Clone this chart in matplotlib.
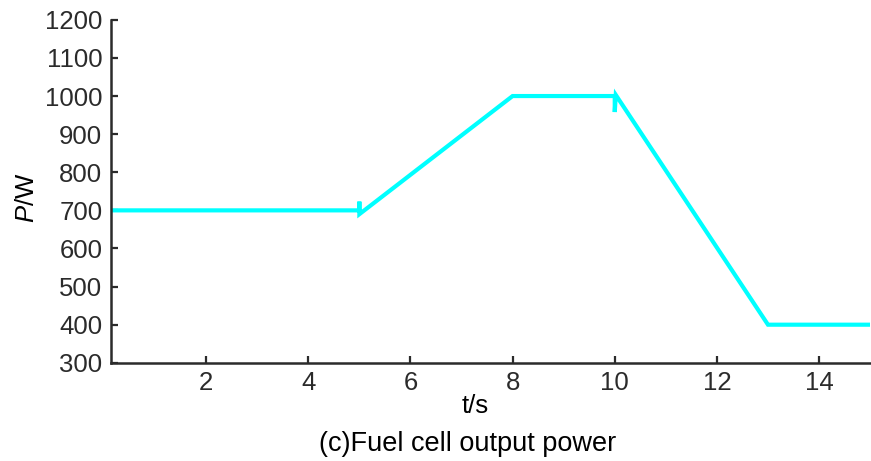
import matplotlib
matplotlib.use("Agg")
import matplotlib.pyplot as plt

plt.rcParams['font.family'] = ['Liberation Sans', 'DejaVu Sans']
plt.rcParams['mathtext.fontset'] = 'custom'
plt.rcParams['mathtext.it'] = 'Liberation Sans:italic'
plt.rcParams['mathtext.rm'] = 'Liberation Sans'

# fuel cell power trace
t = [0.0, 5.0, 5.0, 5.0, 8.0, 10.0, 10.0, 10.02, 13.0, 15.0]
p = [700, 700, 723, 690, 1000, 1000, 958, 1003, 400, 400]

xticks = [2, 4, 6, 8, 10, 12, 14]
yticks = [300, 400, 500, 600, 700, 800, 900, 1000, 1100, 1200]

dark = '#2b2b2b'
fs = 18.5

fig = plt.figure(figsize=(8.71, 4.61), dpi=100)
ax = fig.add_axes([0.127, 0.213, 0.872, 0.744])

ax.plot(t, p, color='#00ffff', lw=3, solid_joinstyle='miter')

ax.set_xlim(0.13, 15)
ax.set_ylim(300, 1200)
ax.set_xticks(xticks)
ax.set_yticks(yticks)

#axis box like the original: only left and bottom
for s in ['top', 'right']:
    ax.spines[s].set_visible(False)
for s in ['left', 'bottom']:
    ax.spines[s].set_color(dark)
    ax.spines[s].set_linewidth(1.8)

ax.tick_params(direction='in', length=5, width=1.6, color=dark,
               labelsize=fs, labelcolor=dark)
ax.tick_params(axis='y', pad=6)
ax.tick_params(axis='x', pad=6)

fig.text(27 / 871, 1 - 198 / 461, '$P$/W', rotation=90, ha='center',
         va='center', fontsize=fs)
fig.text(475 / 871, 1 - 413 / 461, 't/s', ha='center', va='baseline',
         fontsize=fs)
fig.text(468 / 871, 1 - 451 / 461, '(c)Fuel cell output power', ha='center',
         va='baseline', fontsize=19.5)

fig.savefig('out.png', dpi=100)
